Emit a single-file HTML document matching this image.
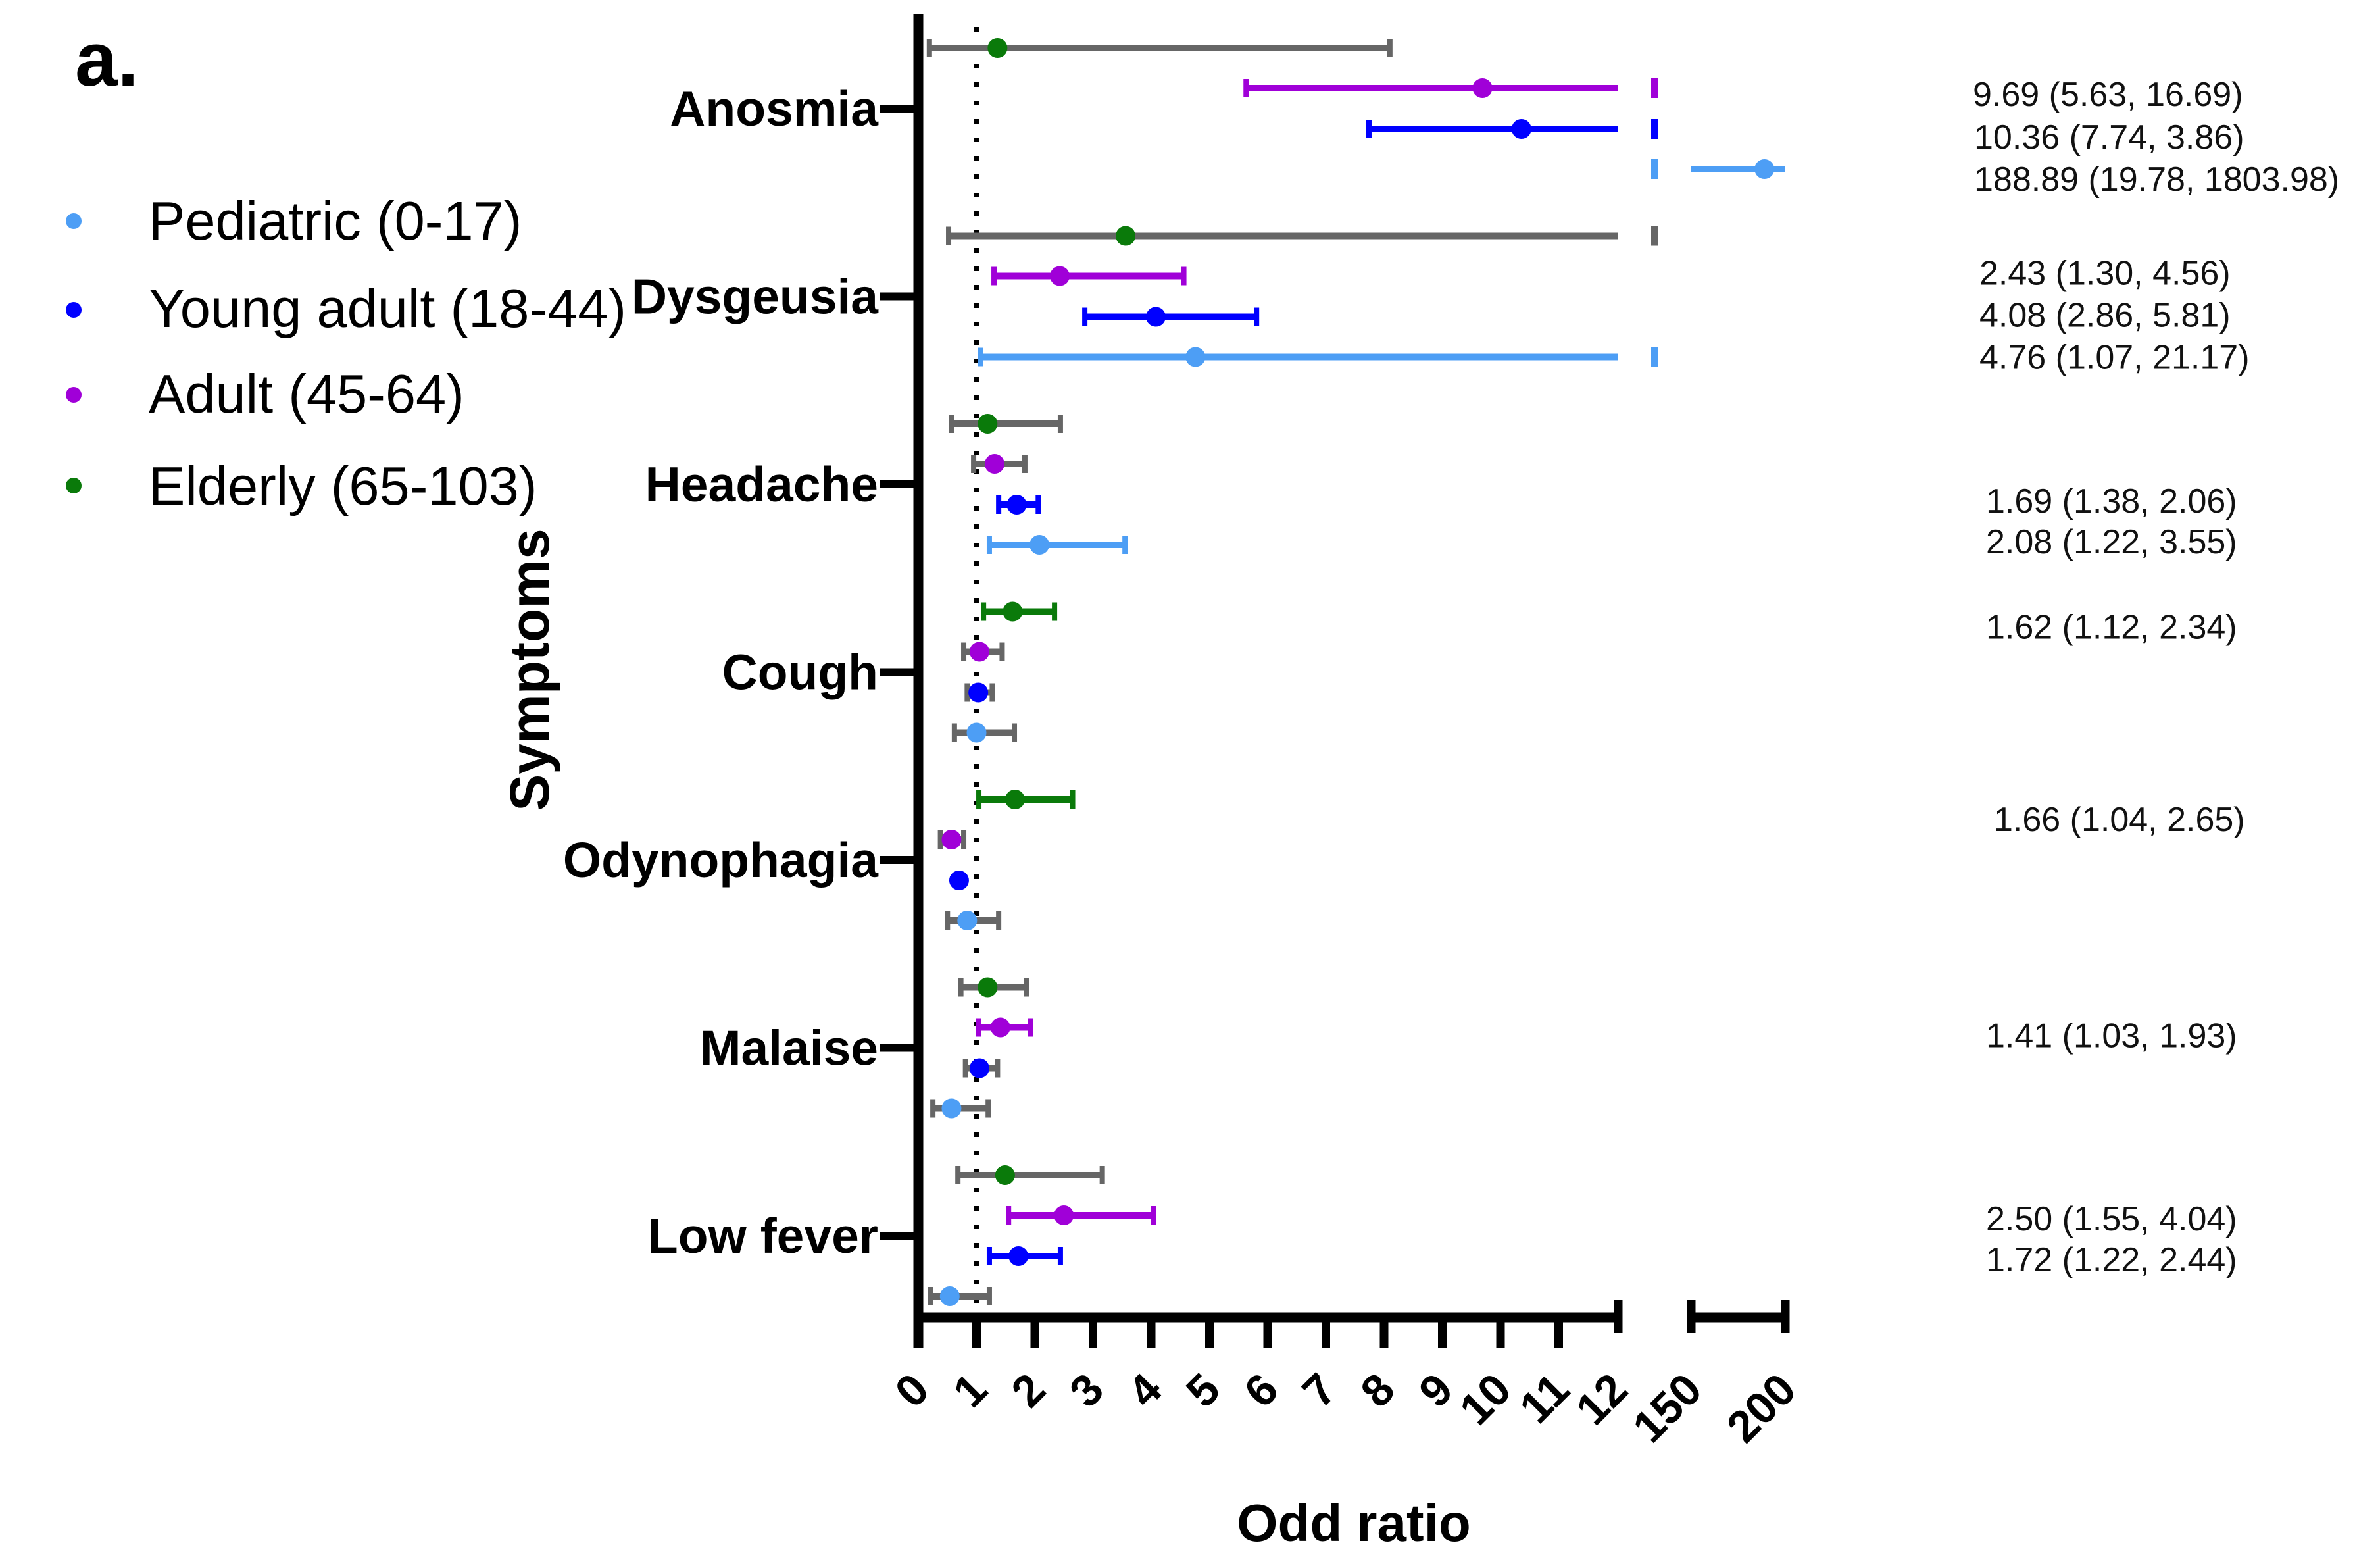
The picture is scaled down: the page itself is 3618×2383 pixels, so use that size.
<!DOCTYPE html>
<html><head><meta charset="utf-8"><style>
html,body{margin:0;padding:0;background:#fff;}
svg{display:block;font-family:"Liberation Sans",Arial,sans-serif;}
</style></head><body>
<svg id="chart" width="3618" height="2383" viewBox="0 0 3618 2383" xmlns="http://www.w3.org/2000/svg">
<rect width="3618" height="2383" fill="#fff"/>
<text x="114" y="130" font-size="116" font-weight="bold">a.</text>
<g>
 <g><circle cx="112" cy="336" r="12" fill="#4d9ef5"/><text x="226" y="364" font-size="83">Pediatric (0-17)</text></g>
 <g><circle cx="112" cy="471" r="12" fill="#0000ff"/><text x="226" y="497" font-size="83">Young adult (18-44)</text></g>
 <g><circle cx="112" cy="600" r="12" fill="#a000d8"/><text x="226" y="627" font-size="83">Adult (45-64)</text></g>
 <g><circle cx="112" cy="738" r="12" fill="#0a7a0a"/><text x="226" y="767" font-size="83">Elderly (65-103)</text></g>
</g>
<text transform="translate(834,1018) rotate(-90)" text-anchor="middle" font-size="84" font-weight="bold">Symptoms</text>
<text x="2058" y="2342" text-anchor="middle" font-size="80" font-weight="bold">Odd ratio</text>
<g id="plot"></g>
</svg>
<script>
const categories = ["Anosmia","Dysgeusia","Headache","Cough","Odynophagia","Malaise","Low fever"];
const groups = ["Elderly","Adult","Young adult","Pediatric"];
const groupColors = ["#0a7a0a","#a000d8","#0000ff","#4d9ef5"];
// per category, order: Elderly, Adult, Young adult, Pediatric
const orValues = [
 [1.36, 9.69, 10.36, 188.89],
 [3.56, 2.43, 4.08, 4.76],
 [1.19, 1.31, 1.69, 2.08],
 [1.62, 1.05, 1.03, 1.00],
 [1.66, 0.57, 0.70, 0.84],
 [1.19, 1.41, 1.05, 0.57],
 [1.49, 2.50, 1.72, 0.54]
];
const ciLow = [
 [0.19, 5.63, 7.74, 19.78],
 [0.52, 1.30, 2.86, 1.07],
 [0.57, 0.95, 1.38, 1.22],
 [1.12, 0.78, 0.84, 0.62],
 [1.04, 0.38, 0.70, 0.50],
 [0.73, 1.03, 0.81, 0.25],
 [0.68, 1.55, 1.22, 0.21]
];
const ciHigh = [
 [8.10, 16.69, 13.86, 1803.98],
 [20.0, 4.56, 5.81, 21.17],
 [2.44, 1.83, 2.06, 3.55],
 [2.34, 1.44, 1.27, 1.65],
 [2.65, 0.78, 0.70, 1.38],
 [1.86, 1.93, 1.36, 1.20],
 [3.16, 4.04, 2.44, 1.22]
];
const significant = [
 [false,true,true,true],
 [false,true,true,true],
 [false,false,true,true],
 [true,false,false,false],
 [true,false,false,false],
 [false,true,false,false],
 [false,true,true,false]
];
const annotations = [
 ["9.69 (5.63, 16.69)",0,1],["10.36 (7.74, 3.86)",0,2],["188.89 (19.78, 1803.98)",0,3],
 ["2.43 (1.30, 4.56)",1,1],["4.08  (2.86, 5.81)",1,2],["4.76  (1.07, 21.17)",1,3],
 ["1.69  (1.38, 2.06)",2,2],["2.08  (1.22, 3.55)",2,3],
 ["1.62  (1.12, 2.34)",3,0],["1.66  (1.04, 2.65)",4,0],["1.41  (1.03, 1.93)",5,1],
 ["2.50  (1.55, 4.04)",6,1],["1.72  (1.22, 2.44)",6,2]
];
const tickLabels1 = ["0","1","2","3","4","5","6","7","8","9","10","11","12"];
const tickLabels2 = ["150","200"];

const NS="http://www.w3.org/2000/svg";
const plot=document.getElementById('plot');
const X0=1396, UNIT=88.5, SEG1END=2460, BRK=2515, S2A=2571, S2B=2714, AXY=2002, TOP=21;
function xScale(v){ if(v<=12) return X0+v*UNIT; if(v>=150) return S2A+(Math.min(v,200)-150)*(S2B-S2A)/50; return null; }
function catY(i){ return 165+285.5*i; }
function rowY(i,g){ return catY(i)+[-92,-31,31,92][g]; }
function mk(tag,attrs,parent){const e=document.createElementNS(NS,tag);for(const k in attrs)e.setAttribute(k,attrs[k]);(parent||plot).appendChild(e);return e;}

const ref=mk('line',{x1:xScale(1),x2:xScale(1),y1:TOP+20,y2:AXY-10,stroke:'#000','stroke-width':7,'stroke-dasharray':'7 21'});



const yAx=mk('line',{x1:X0,x2:X0,y1:TOP,y2:AXY+46,stroke:'#000','stroke-width':15});


const xAx1=mk('line',{x1:X0,x2:SEG1END,y1:AXY,y2:AXY,stroke:'#000','stroke-width':15});


const xAx2=mk('line',{x1:S2A,x2:S2B,y1:AXY,y2:AXY,stroke:'#000','stroke-width':15});


[SEG1END,S2A,S2B].forEach(function(x){
 const c=mk('line',{x1:x,x2:x,y1:AXY-26,y2:AXY+24,stroke:'#000','stroke-width':13});
 
 
});
function tickLabel(x,label){
 const t=mk('text',{transform:'translate('+(x+20)+','+2116+') rotate(-45)','text-anchor':'end','font-size':68,'font-weight':'bold'});
 t.textContent=label;
 
 
}
tickLabels1.forEach(function(l){
 const v=parseFloat(l), x=xScale(v);
 if(v<12){const tk=mk('line',{x1:x,x2:x,y1:AXY,y2:AXY+46,stroke:'#000','stroke-width':13});
  
  }
 tickLabel(x,l);
});
tickLabels2.forEach(function(l){ tickLabel(xScale(parseFloat(l)),l); });

categories.forEach(function(c,i){
 const y=catY(i);
 const tk=mk('line',{x1:1337,x2:X0,y1:y,y2:y,stroke:'#000','stroke-width':12});
 
 
 const t=mk('text',{x:1335,y:y+26,'text-anchor':'end','font-size':75,'font-weight':'bold'});
 t.textContent=c;
 
 
});

categories.forEach(function(c,i){
 groups.forEach(function(gname,g){
  const y=rowY(i,g), col=groupColors[g], bc=significant[i][g]?col:'#666';
  const lo=ciLow[i][g], hi=ciHigh[i][g], v=orValues[i][g];
  const grp=mk('g',{});
  
  
  function seg(a,b){mk('line',{x1:a,x2:b,y1:y,y2:y,stroke:bc,'stroke-width':10},grp);}
  function cap(x){mk('line',{x1:x,x2:x,y1:y-14,y2:y+14,stroke:bc,'stroke-width':8},grp);}
  function brk(){mk('line',{x1:BRK,x2:BRK,y1:y-15,y2:y+15,stroke:bc,'stroke-width':10},grp);}
  if(lo<=12 && (hi<=12)){ seg(xScale(lo),xScale(hi)); cap(xScale(lo)); cap(xScale(hi)); }
  else if(lo<=12){ seg(xScale(lo),SEG1END); cap(xScale(lo)); brk();
    if(hi>=150){ seg(S2A,xScale(hi)); if(hi<=200) cap(xScale(hi)); } }
  else { brk(); const a=(lo>=150)?xScale(lo):S2A; seg(a,xScale(hi)); if(hi<=200) cap(xScale(hi)); }
  const px=xScale(v);
  if(px!==null){ const d=mk('circle',{cx:px,cy:y,r:15,fill:col},grp);
   
    }
 });
});

const annX={"9.69":2999,"10.36":3001,"188.89":3001,"2.43":3009,"4.08":3009,"4.76":3009};
const annDy=[[0,27,30,33],[0,13,15,18],[0,0,12,13],[41,0,0,0],[48,0,0,0],[0,30,0,0],[0,23,23,0]];
annotations.forEach(function(a){
 const key=a[0].split(' ')[0];
 const x=annX[key]||(key==="1.66"?3031:3019);
 const y=rowY(a[1],a[2])+annDy[a[1]][a[2]];
 const t=mk('text',{x:x,y:y,'font-size':52,fill:'#111','xml:space':'preserve'});
 t.textContent=a[0];
 
 
});
</script>
</body></html>
